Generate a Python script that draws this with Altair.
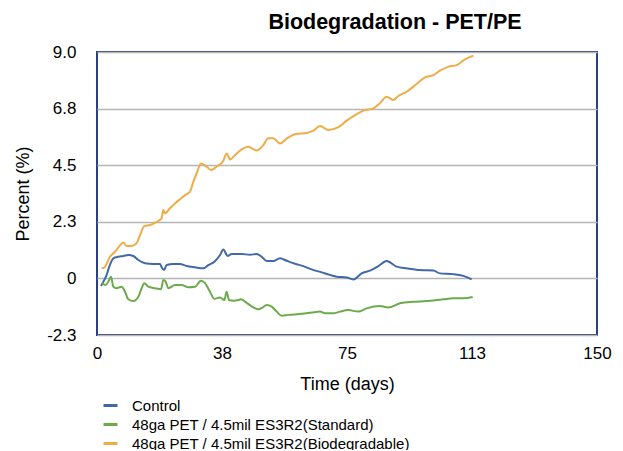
import altair as alt
import pandas as pd

# ---- data ----
control_days = [1.2, 2.2, 2.9, 3.6, 4.9, 6.4, 7.9, 9.4, 10.9, 12.4, 14.4, 16.9, 18.9, 19.4, 20.1, 20.9,
                22.9, 24.9, 26.9, 29.4, 31.9, 33.4, 35.4, 36.9, 37.9, 39.2, 40.4, 43.4, 45.9, 47.9, 49.4,
                50.9, 52.9, 54.9, 56.9, 59.4, 61.9, 64.4, 67.4, 69.9, 71.9, 74.9, 76.9, 79.4, 81.9, 84.4,
                86.9, 89.9, 92.9, 96.9, 100.9, 102.9, 106.9, 109.9, 112.4]
control_vals = [-0.30, -0.06, 0.14, 0.44, 0.80, 0.86, 0.89, 0.93, 0.89, 0.73, 0.60, 0.57, 0.57, 0.44, 0.33,
                0.53, 0.57, 0.57, 0.49, 0.44, 0.40, 0.53, 0.68, 0.93, 1.15, 0.89, 0.97, 0.97, 0.94, 0.97,
                0.86, 0.69, 0.69, 0.80, 0.70, 0.58, 0.49, 0.36, 0.24, 0.14, 0.07, 0.04, -0.04, 0.20, 0.31,
                0.49, 0.69, 0.47, 0.40, 0.33, 0.31, 0.20, 0.17, 0.10, -0.04]

standard_days = [1.4, 2.6, 3.4, 4.2, 4.9, 5.9, 7.4, 8.4, 9.4, 10.9, 12.4, 13.4, 14.2, 15.4, 17.4, 19.2,
                 19.9, 20.6, 21.4, 23.4, 25.4, 27.4, 29.4, 31.2, 32.4, 33.9, 35.2, 36.9, 38.2, 38.9, 39.6,
                 40.9, 42.4, 43.2, 44.9, 46.9, 48.4, 49.6, 50.9, 52.4, 53.9, 55.4, 57.4, 61.4, 64.4, 66.9,
                 68.4, 70.9, 72.9, 75.4, 78.4, 80.9, 84.9, 87.4, 90.9, 94.9, 98.9, 101.9, 103.9, 106.9,
                 109.9, 112.7]
standard_vals = [-0.17, -0.26, -0.13, 0.07, -0.33, -0.39, -0.33, -0.53, -0.83, -0.90, -0.73, -0.39, -0.19,
                 -0.33, -0.39, -0.43, -0.06, -0.13, -0.39, -0.26, -0.26, -0.35, -0.33, -0.09, -0.19, -0.53,
                 -0.81, -0.76, -0.86, -0.53, -0.86, -0.89, -0.86, -0.83, -0.97, -1.15, -1.23, -1.16, -1.06,
                 -1.12, -1.32, -1.48, -1.45, -1.41, -1.36, -1.32, -1.39, -1.39, -1.32, -1.26, -1.32, -1.19,
                 -1.10, -1.16, -0.99, -0.93, -0.90, -0.86, -0.83, -0.79, -0.79, -0.74]

biodeg_days = [1.4, 2.2, 3.9, 5.4, 6.6, 7.9, 8.9, 10.4, 11.9, 12.9, 14.2, 15.9, 17.9, 19.4, 19.9, 20.4,
               21.9, 23.4, 25.2, 26.4, 27.9, 28.9, 29.9, 31.2, 32.9, 34.2, 35.9, 37.9, 38.9, 39.9, 41.4,
               43.4, 45.4, 47.9, 49.9, 51.4, 52.9, 54.9, 56.9, 59.9, 62.9, 64.9, 66.9, 69.4, 72.4, 74.9,
               77.9, 79.9, 82.9, 84.9, 86.9, 88.9, 90.4, 92.9, 95.9, 98.4, 100.9, 102.9, 105.4, 107.9,
               110.4, 112.9]
biodeg_vals = [0.40, 0.43, 0.86, 1.06, 1.26, 1.43, 1.29, 1.29, 1.40, 1.72, 2.08, 2.12, 2.25, 2.39, 2.72,
               2.59, 2.79, 2.98, 3.18, 3.31, 3.45, 3.84, 4.18, 4.57, 4.44, 4.31, 4.44, 4.68, 4.97, 4.73,
               4.90, 5.13, 5.23, 5.08, 5.30, 5.57, 5.57, 5.36, 5.56, 5.75, 5.78, 5.87, 6.06, 5.90, 6.01,
               6.27, 6.53, 6.67, 6.76, 6.96, 7.22, 7.09, 7.25, 7.42, 7.73, 7.99, 8.08, 8.26, 8.41, 8.48,
               8.71, 8.85]

series_names = ["Control",
                "48ga PET / 4.5mil ES3R2(Standard)",
                "48ga PET / 4.5mil ES3R2(Biodegradable)"]
series_colors = ["#4169a8", "#6caa4c", "#efac47"]

x_ticks = [0, 37.5, 75, 112.5, 150]
x_labels = ["0", "38", "75", "113", "150"]
y_ticks = [-2.25, 0, 2.25, 4.5, 6.75, 9.0]
y_labels = ["-2.3", "0", "2.3", "4.5", "6.8", "9.0"]

# ---- table ----
frames = []
for name, d, v in zip(series_names,
                      [control_days, standard_days, biodeg_days],
                      [control_vals, standard_vals, biodeg_vals]):
    frames.append(pd.DataFrame({"day": d, "value": v, "series": name}))
df = pd.concat(frames, ignore_index=True)


def label_expr(ticks, labels):
    t = "[" + ",".join(str(x) for x in ticks) + "]"
    l = "[" + ",".join("'" + s + "'" for s in labels) + "]"
    return f"{l}[indexof({t}, datum.value)]"


FONT = "Liberation Sans"

chart = alt.Chart(df).mark_line(strokeWidth=2, interpolate="monotone").encode(
    x=alt.X("day:Q",
            scale=alt.Scale(domain=[0, 150], nice=False, zero=False),
            axis=alt.Axis(values=x_ticks, labelExpr=label_expr(x_ticks, x_labels),
                          title="Time (days)", grid=False, ticks=False, domain=False,
                          labelFlush=False, labelOverlap=False,
                          labelPadding=10, labelFontSize=17, labelColor="#000000",
                          titleFontSize=18, titleFontWeight="normal", titleColor="#000000",
                          titleX=250, titleY=49, titleBaseline="middle")),
    y=alt.Y("value:Q",
            scale=alt.Scale(domain=[-2.25, 9.0], nice=False, zero=False),
            axis=alt.Axis(values=y_ticks, labelExpr=label_expr(y_ticks, y_labels),
                          title="Percent (%)", grid=True, gridColor="#b5b5b5", gridWidth=1.5,
                          ticks=False, domain=False, labelFlush=False, labelOverlap=False,
                          labelPadding=21, labelFontSize=17, labelColor="#000000",
                          titleFontSize=18, titleFontWeight="normal", titleColor="#000000",
                          titleX=-74, titleY=141.5, titleBaseline="middle", titleAngle=-90)),
    color=alt.Color("series:N",
                    scale=alt.Scale(domain=series_names, range=series_colors),
                    sort=series_names,
                    legend=alt.Legend(title=None, orient="none", legendX=5, legendY=345,
                                      direction="vertical", symbolType="stroke",
                                      symbolSize=196, symbolStrokeWidth=3,
                                      labelFontSize=15, labelColor="#000000", labelLimit=500,
                                      labelOffset=13, rowPadding=2, padding=0)),
).properties(
    width=500,
    height=283,
    title=alt.TitleParams("Biodegradation - PET/PE", fontSize=21.5, fontWeight="bold",
                          font=FONT, color="#000000", anchor="middle", dx=48, offset=10),
    autosize=alt.AutoSizeParams(type="none"),
    padding={"left": 89, "top": 44, "right": 18, "bottom": 115},
).configure(
    font=FONT,
).configure_view(
    stroke="#2a4080", strokeWidth=2,
).configure_axis(
    labelFont=FONT, titleFont=FONT,
).configure_legend(
    labelFont=FONT,
)

chart.save("out.html", embed_options={"renderer": "svg", "actions": False})
